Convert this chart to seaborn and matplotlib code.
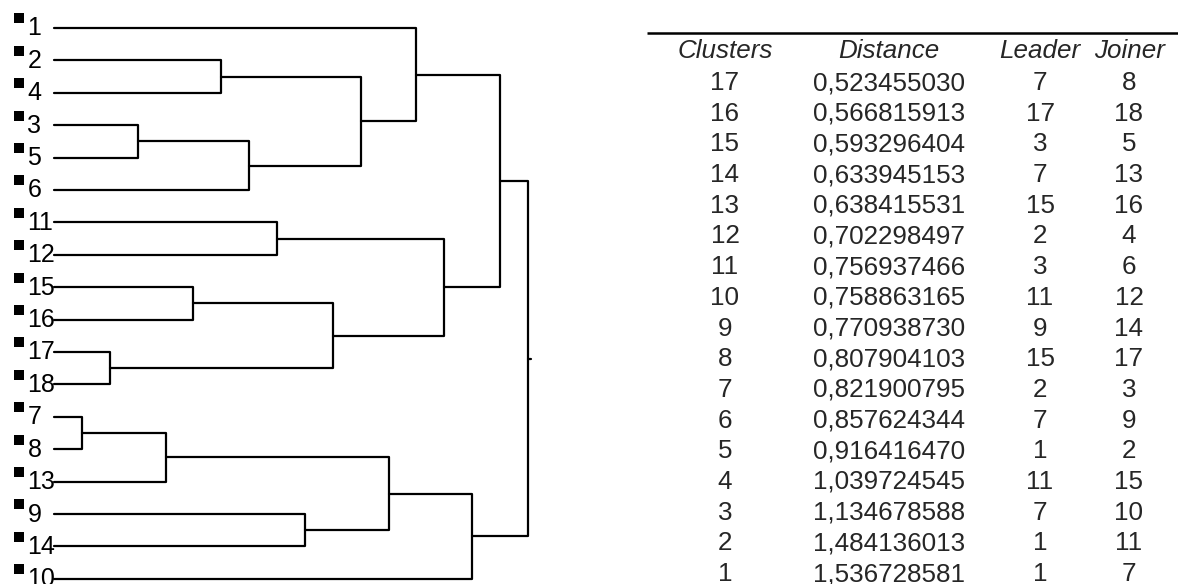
import numpy as np
import pandas as pd
import seaborn as sns
import matplotlib.pyplot as plt

# amalgamation schedule (table on the right)
clusters = list(range(17, 0, -1))
distances = [0.523455030, 0.566815913, 0.593296404, 0.633945153, 0.638415531,
             0.702298497, 0.756937466, 0.758863165, 0.770938730, 0.807904103,
             0.821900795, 0.857624344, 0.916416470, 1.039724545, 1.134678588,
             1.484136013, 1.536728581]
leaders = [7, 17, 3, 7, 15, 2, 3, 11, 9, 15, 2, 7, 1, 11, 7, 1, 1]
joiners = [8, 18, 5, 13, 16, 4, 6, 12, 14, 17, 3, 9, 2, 15, 10, 11, 7]
headers = ["Clusters", "Distance", "Leader", "Joiner"]
n_leaves = 18

W, H = 1178, 584

sns.set_style("white")
plt.rcParams["font.family"] = ["Liberation Sans", "DejaVu Sans"]

# build the tree: merge step gives the x position, leader keeps its label
nodes = [{"x": 0, "kids": None, "label": i + 1} for i in range(n_leaves)]
active = {i + 1: i for i in range(n_leaves)}
for step, (a, b) in enumerate(zip(leaders, joiners), start=1):
    nodes.append({"x": step, "kids": (active[a], active[b])})
    active[a] = len(nodes) - 1
root = active[leaders[-1]]

order = []
def walk(k):
    if nodes[k]["kids"] is None:
        order.append(k)
        return
    for c in nodes[k]["kids"]:
        walk(c)
walk(root)

for pos, k in enumerate(order):
    nodes[k]["y"] = pos
def set_y(k):
    nd = nodes[k]
    if nd["kids"] is None:
        return nd["y"]
    nd["y"] = np.mean([set_y(c) for c in nd["kids"]])
    return nd["y"]
set_y(root)

rows = []
seg = 0
for k, nd in enumerate(nodes):
    if nd["kids"] is None:
        continue
    c1, c2 = (nodes[c] for c in nd["kids"])
    pts = [(c1["x"], c1["y"]), (nd["x"], c1["y"]), (nd["x"], c2["y"]), (c2["x"], c2["y"])]
    for x, y in pts:
        rows.append({"seg": seg, "x": x, "y": y})
    seg += 1
# small stub at the root
for x in (nodes[root]["x"], nodes[root]["x"] + 0.1):
    rows.append({"seg": seg, "x": x, "y": nodes[root]["y"]})
segs = pd.DataFrame(rows)

leaf_df = pd.DataFrame({
    "label": [nodes[k]["label"] for k in order],
    "y": [nodes[k]["y"] for k in order],
})

fig = plt.figure(figsize=(W / 100, H / 100), dpi=100)

# dendrogram axes: one merge step ~27.9 px, one leaf ~32.4 px
x0, dx = 54.1, 27.875
y0, dy = 28.0, 32.4
ax = fig.add_axes([0, 0, 560 / W, 1])
sns.lineplot(data=segs, x="x", y="y", units="seg", estimator=None, sort=False,
             color="black", lw=1.6, ax=ax, legend=False)
sns.scatterplot(x=np.full(len(leaf_df), (18.5 - x0) / dx), y=leaf_df["y"] - 9.5 / dy,
                marker="s", s=58, color="black", linewidth=0, ax=ax)
for _, r in leaf_df.iterrows():
    ax.text((27.5 - x0) / dx, r["y"] + 7.5 / dy, str(r["label"]), fontsize=18,
            ha="left", va="baseline", color="black")
ax.set_xlim(-x0 / dx, (560 - x0) / dx)
ax.set_ylim((H - y0) / dy, -y0 / dy)
ax.axis("off")

# table axes in pixel units
tab = fig.add_axes([600 / W, 0, 578 / W, 1])
tab.set_xlim(600, W)
tab.set_ylim(H, 0)
tab.axis("off")
tab.plot([647, W], [33, 33], color="black", lw=1.8, solid_capstyle="butt")
col_x = [725, 889, 1040, 1129]
for cx, h in zip(col_x, headers):
    tab.text(cx, 58.5, h, fontsize=18.7, style="italic", ha="center", va="baseline")
row_h = 30.69
for i, (c, d, l, j) in enumerate(zip(clusters, distances, leaders, joiners)):
    yb = 90 + i * row_h
    vals = [str(c), f"{d:.9f}".replace(".", ","), str(l), str(j)]
    for cx, v in zip(col_x, vals):
        tab.text(cx, yb, v, fontsize=18.7, ha="center", va="baseline")

fig.savefig("out.png", dpi=100)
